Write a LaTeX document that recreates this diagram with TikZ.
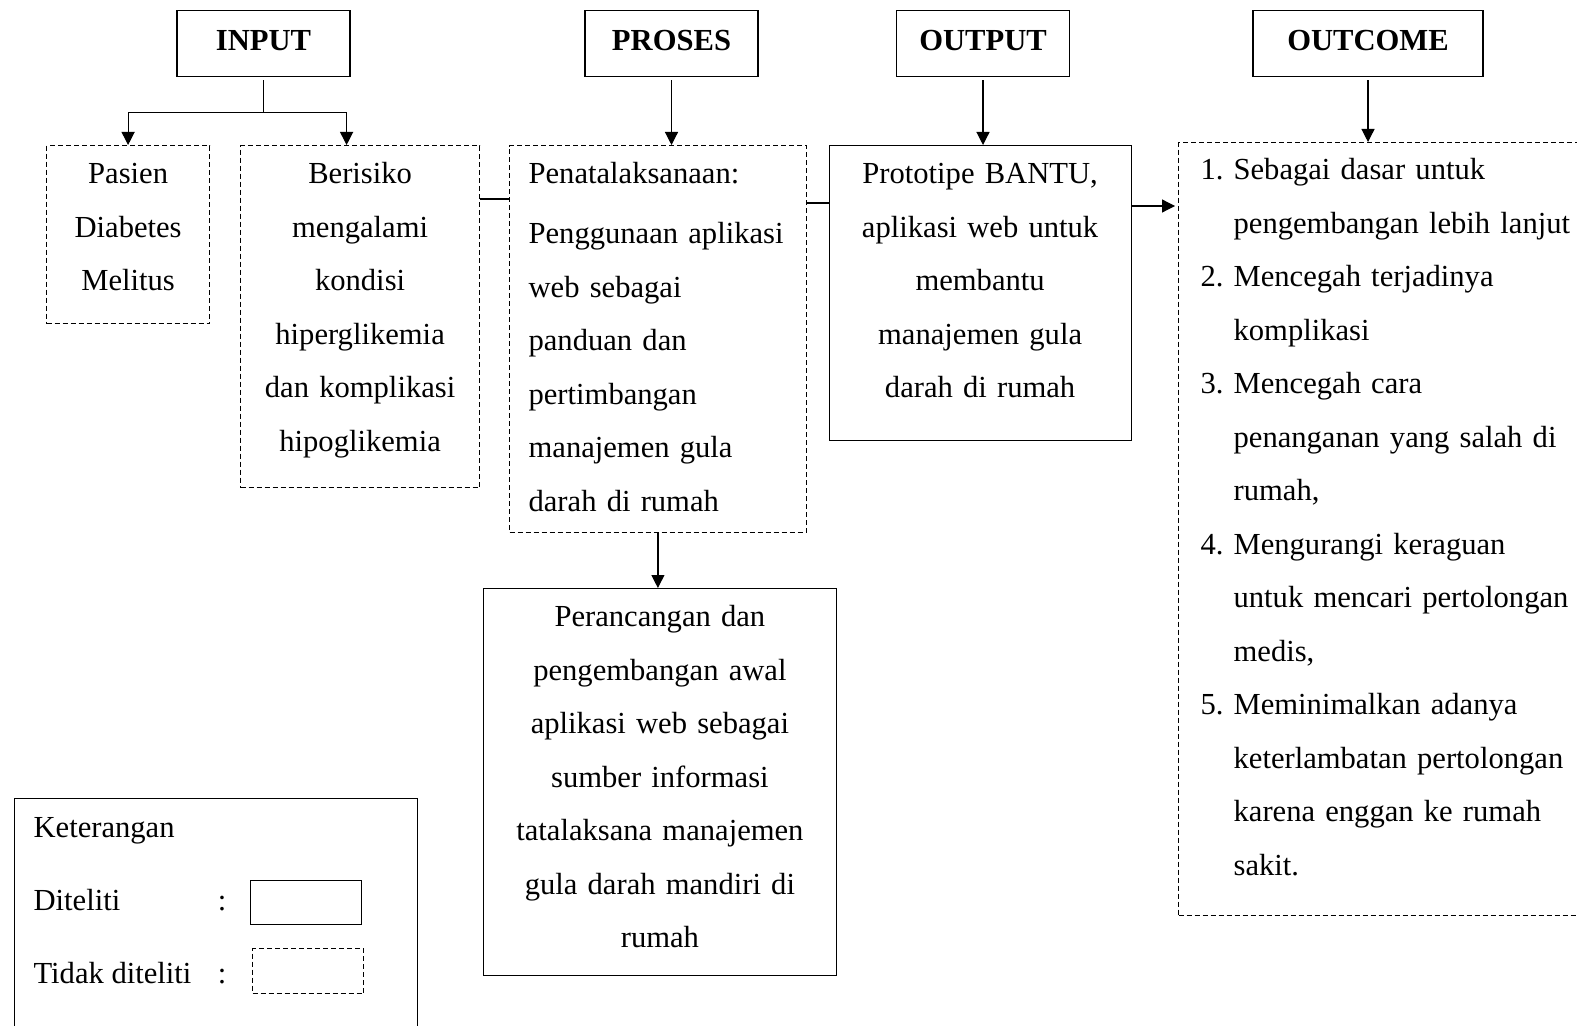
\documentclass[tikz,border=0pt]{standalone}
\usepackage{fontspec}
\setmainfont{Liberation Serif}
\usetikzlibrary{arrows.meta}
\newcommand{\diafont}{\fontsize{15.3}{26.75}\selectfont}
\newcommand{\nomor}[1]{\makebox[16.5pt][l]{#1.}}
\newcommand{\lanjut}{\hspace*{16.5pt}}

\begin{document}
\begin{tikzpicture}[x=0.5pt, y=-0.5pt, line width=0.6pt, font=\diafont,
    head/.style={draw, font=\diafont\bfseries, anchor=north, inner sep=0pt, minimum width=86.5pt, text height=20pt, text depth=13pt},
    diteliti/.style={draw, anchor=north west, inner sep=0pt, align=center, text height=19pt},
    tidak/.style={diteliti, dash pattern=on 2.5pt off 1.5pt},
    ket/.style={anchor=base west, inner sep=0pt},
    panah/.style={-{Triangle[width=6.5pt, length=6.5pt]}}]
    \useasboundingbox (0,0) rectangle (1577,1026);
    \node[head] (input) at (263.5,10) {INPUT};
    \node[head] (proses) at (671.5,10) {PROSES};
    \node[head] (output) at (983,10) {OUTPUT};
    \node[head, minimum width=115pt] (outcome) at (1368,10) {OUTCOME};
    \node[tidak, text width=81.5pt, text depth=70pt] (pasien) at (46,145) {Pasien\\Diabetes\\Melitus};
    \node[tidak, text width=119.5pt, text depth=152pt] (berisiko) at (240,145) {Berisiko\\mengalami\\kondisi\\hiperglikemia\\dan komplikasi\\hipoglikemia};
    \node[tidak, align=left, inner xsep=9.5pt, text width=129.3pt, text depth=174.5pt] (penata) at (509,145) {Penatalaksanaan:\\[3.4pt]Penggunaan aplikasi\\web sebagai\\panduan dan\\pertimbangan\\manajemen gula\\darah di rumah};
    \node[diteliti, text width=151pt, text depth=128.5pt] (proto) at (828.5,145) {Prototipe BANTU,\\aplikasi web untuk\\membantu\\manajemen gula\\darah di rumah};
    \node[tidak, align=left, inner xsep=11pt, text width=189pt, text height=18.5pt, text depth=368pt] (hasil) at (1178,142) {\nomor{1}Sebagai dasar untuk\\\lanjut pengembangan lebih lanjut\\\nomor{2}Mencegah terjadinya\\\lanjut komplikasi\\\nomor{3}Mencegah cara\\\lanjut penanganan yang salah di\\\lanjut rumah,\\\nomor{4}Mengurangi keraguan\\\lanjut untuk mencari pertolongan\\\lanjut medis,\\\nomor{5}Meminimalkan adanya\\\lanjut keterlambatan pertolongan\\\lanjut karena enggan ke rumah\\\lanjut sakit.};
    \node[diteliti, text width=176.3pt, text depth=174.5pt] (rancang) at (483,588) {Perancangan dan\\pengembangan awal\\aplikasi web sebagai\\sumber informasi\\tatalaksana manajemen\\gula darah mandiri di\\rumah};
    \draw[shorten <=1.5pt] (input.south) -- ++(0,35) coordinate (pisah);
    \draw[panah] (pisah) -| (pasien.north);
    \draw[panah] (pisah) -| ([xshift=-6.75pt]berisiko.north);
    \draw[panah, shorten <=1.5pt] (proses.south) -- (proses.south |- penata.north);
    \draw[panah, shorten <=1.5pt] (output.south) -- (output.south |- proto.north);
    \draw[panah, shorten <=1.5pt] (outcome.south) -- (outcome.south |- hasil.north);
    \draw ([yshift=-27pt]berisiko.north east) coordinate (g1) -- (g1 -| penata.west);
    \draw ([yshift=-29pt]penata.north east) coordinate (g2) -- (g2 -| proto.west);
    \draw[panah, shorten >=1.5pt] ([yshift=-30.5pt]proto.north east) coordinate (g3) -- (g3 -| hasil.west);
    \draw[panah] (penata.south) -- (penata.south |- rancang.north);
    \node[draw, anchor=north west, inner sep=0pt, minimum width=201.5pt, minimum height=125pt] (keterangan) at (14,798) {};
    \node[ket] (ketjudul) at (33,837) {Keterangan};
    \node[ket] (teliti) at (33,910) {Diteliti};
    \node[anchor=base, inner sep=0pt] (telititik) at (222,910) {:};
    \node[draw, anchor=north west, inner sep=0pt, minimum width=55.5pt, minimum height=22pt] (telitikotak) at (250,880) {};
    \node[ket] (tidakteliti) at (33,983) {Tidak diteliti};
    \node[anchor=base, inner sep=0pt] (tidaktitik) at (222,983) {:};
    \node[draw, dash pattern=on 2.5pt off 1.5pt, anchor=north west, inner sep=0pt, minimum width=55.5pt, minimum height=22.5pt] (tidakkotak) at (252,948) {};
\end{tikzpicture}
\end{document}
